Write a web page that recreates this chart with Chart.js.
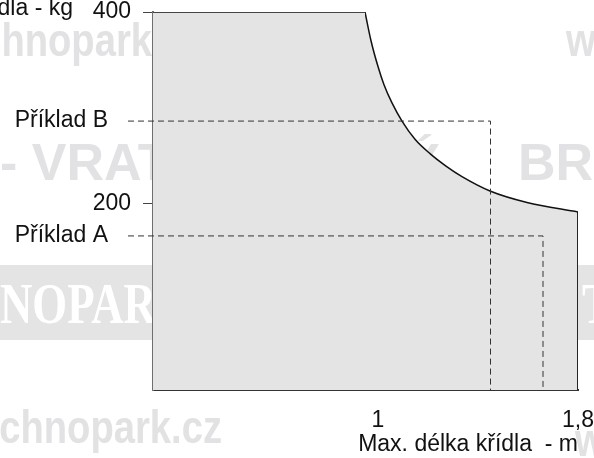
<!DOCTYPE html>
<html>
<head>
<meta charset="utf-8">
<script src="https://cdn.jsdelivr.net/npm/chart.js@4.4.1/dist/chart.umd.min.js"></script>
<style>
  html, body { margin: 0; padding: 0; background: #fff; }
</style>
</head>
<body>
<canvas id="chart" width="594" height="458"></canvas>
<script>
// nosnost v zavislosti na delce kridla
var flatLengths = [0.1, 0.948];
var flatLoads = [400, 400];
var curveLengths = [0.948, 0.972, 1.0, 1.024, 1.056, 1.096, 1.148, 1.208, 1.272, 1.336, 1.448, 1.596, 1.8];
var curveLoads = [400, 370, 343, 324, 305, 286, 267, 252, 239, 228, 213, 201, 191];
var edgeLengths = [1.8, 1.8];
var edgeLoads = [191, 5];

var exampleNames = ['Příklad B', 'Příklad A'];
var exampleLengths = [1.45, 1.66];
var exampleLoads = [286, 166];

var xTicks = [1, 1.8];
var yTicks = [200, 400];
var xMin = 0.1, xMax = 1.8, yMin = 5, yMax = 400;

var FONT = 'Liberation Sans, Arial, sans-serif';
var FSIZE = 23;
var INK = '#111';

function pts(xs, ys) {
    return xs.map(function (x, i) { return {x: x, y: ys[i]}; });
}

var datasets = [];
// priklady - carkovane
exampleNames.forEach(function (name, i) {
    datasets.push({
        label: name,
        data: [{x: 0, y: exampleLoads[i]}, {x: exampleLengths[i], y: exampleLoads[i]}, {x: exampleLengths[i], y: yMin}],
        borderColor: '#333',
        borderWidth: 1,
        borderDash: [6, 4],
        pointRadius: 0,
        fill: false,
        tension: 0,
        clip: false,
        order: 0
    });
});
datasets.push({
    data: pts(flatLengths, flatLoads),
    borderColor: INK, borderWidth: 1.5, backgroundColor: '#e4e4e4',
    fill: 'start', pointRadius: 0, tension: 0, order: 2
});
datasets.push({
    data: pts(curveLengths, curveLoads),
    borderColor: INK, borderWidth: 1.5, backgroundColor: '#e4e4e4',
    fill: 'start', pointRadius: 0, cubicInterpolationMode: 'monotone', order: 2
});
datasets.push({
    data: pts(edgeLengths, edgeLoads),
    borderColor: INK, borderWidth: 1.8, fill: false, pointRadius: 0, tension: 0, order: 1
});

// vodoznaky v pozadi
var watermark = {
    id: 'watermark',
    beforeDraw: function (chart) {
        var ctx = chart.ctx;
        ctx.save();
        ctx.fillStyle = '#fff';
        ctx.fillRect(0, 0, chart.width, chart.height);
        ctx.fillStyle = '#e4e4e4';
        ctx.fillRect(0, 265, chart.width, 75);
        ctx.fillStyle = '#e2e2e4';
        ctx.textBaseline = 'alphabetic';
        ctx.font = 'bold 46px ' + FONT;
        ctx.save(); ctx.scale(0.83, 1);
        ctx.textAlign = 'right';
        ctx.fillText('www.technopark', 152 / 0.83, 56);
        ctx.fillText('www.technopark.cz', 222 / 0.83, 443);
        ctx.textAlign = 'left';
        ctx.fillText('www.technopark.cz', 566 / 0.83, 56);
        ctx.fillText('www.technopark.cz', 575 / 0.83, 456);
        ctx.restore();
        ctx.font = 'bold 52px ' + FONT;
        ctx.textAlign = 'left';
        ctx.fillText('- VRATA', 0, 180);
        ctx.fillText('Ý', 405, 180);
        ctx.fillText('BRÁNY', 518, 180);
        ctx.fillStyle = '#fff';
        ctx.font = 'bold 56px Liberation Serif, serif';
        ctx.save(); ctx.scale(0.8, 1);
        ctx.textAlign = 'right';
        ctx.fillText('TECH', 0, 323);
        ctx.textAlign = 'left';
        ctx.fillText('NOPARK', 0, 323);
        ctx.fillText('T', 582 / 0.8, 323);
        ctx.restore();
        ctx.restore();
    }
};

// popisky prikladu a osy y
var labels = {
    id: 'labels',
    afterDraw: function (chart) {
        var ctx = chart.ctx;
        var y = chart.scales.y;
        ctx.save();
        ctx.font = FSIZE + 'px ' + FONT;
        ctx.fillStyle = INK;
        ctx.textAlign = 'right';
        ctx.textBaseline = 'middle';
        exampleNames.forEach(function (name, i) {
            ctx.fillText(name, 108, y.getPixelForValue(exampleLoads[i]));
        });
        ctx.fillText('Max. hmotnost křídla - kg', 73, 9);
        ctx.restore();
    }
};

var ctx = document.getElementById('chart').getContext('2d');
var chart = new Chart(ctx, {
    type: 'line',
    data: {datasets: datasets},
    plugins: [watermark, labels],
    options: {
        responsive: false,
        animation: false,
        devicePixelRatio: 1,
        layout: {padding: {top: 12, right: 16, bottom: 0, left: 0}},
        plugins: {legend: {display: false}, tooltip: {enabled: false}},
        scales: {
            x: {
                type: 'linear', min: xMin, max: xMax, z: 1,
                afterBuildTicks: function (s) { s.ticks = xTicks.map(function (v) { return {value: v}; }); },
                afterFit: function (s) { s.height = 68; s.paddingLeft = 0; s.paddingRight = 0; },
                ticks: {
                    color: INK, font: {family: FONT, size: FSIZE}, padding: 17, maxRotation: 0, autoSkip: false,
                    callback: function (v) { return String(v).replace('.', ','); }
                },
                grid: {display: false, drawTicks: false},
                border: {display: true, color: '#333', width: 2},
                title: {
                    display: true, text: 'Max. délka křídla  - m', align: 'end',
                    color: INK, font: {family: FONT, size: FSIZE}, padding: {top: 0, bottom: 0}
                }
            },
            y: {
                min: yMin, max: yMax, z: 1,
                afterBuildTicks: function (s) { s.ticks = yTicks.map(function (v) { return {value: v}; }); },
                afterFit: function (s) { s.width = 153; s.paddingTop = 0; s.paddingBottom = 0; },
                ticks: {color: INK, font: {family: FONT, size: FSIZE}, padding: 12},
                grid: {drawOnChartArea: false, drawTicks: true, tickLength: 10, color: '#444', lineWidth: 1},
                border: {color: '#6e6e6e', width: 2}
            }
        }
    }
});
</script>
</body>
</html>
